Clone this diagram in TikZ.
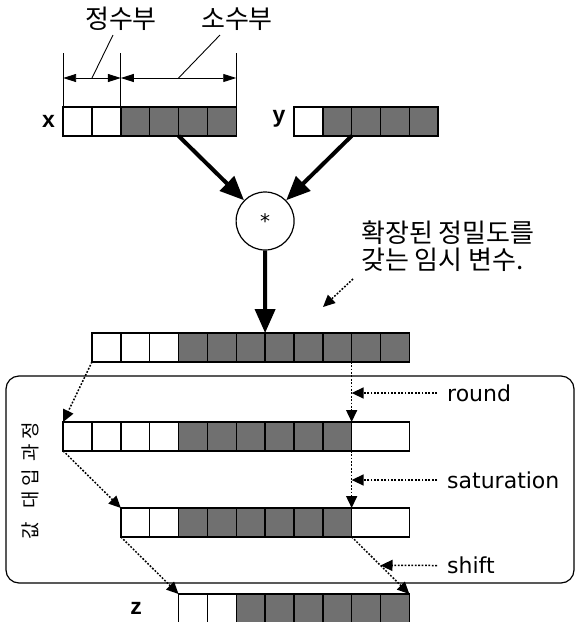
\documentclass[tikz,border=0pt]{standalone}
\usepackage{fontspec}
\setmainfont{DejaVu Sans}
\newfontfamily\kr{Noto Sans CJK KR}
\newfontfamily\varfont{Liberation Sans}
\usetikzlibrary{arrows.meta,calc}
\definecolor{cellgray}{RGB}{112,112,112}

% width of one bit cell
\newcommand\cw{28.85}
% one register row: name, left x, top y, white cells, gray cells
\newcommand\mkrow[5]{%
  \foreach \k in {1,...,#4}{%
    \node[cellw] (#1\k) at ({#2+(\k-1)*\cw},#3) {};}
  \foreach \k in {1,...,#5}{%
    \pgfmathtruncatemacro\j{#4+\k}%
    \node[cellg] (#1\j) at ({#2+(\j-1)*\cw},#3) {};}
}

\begin{document}
\begin{tikzpicture}[x=1pt,y=-1pt,
  cellbase/.style={draw=black,line width=1.5pt,minimum width=\cw pt,
    minimum height=\cw pt,inner sep=0pt,outer sep=0pt,anchor=north west},
  cellw/.style={cellbase,fill=white},
  cellg/.style={cellbase,fill=cellgray},
  widecell/.style={cellbase,fill=white,minimum width=2*\cw pt},
  flow/.style={line width=4pt,-{Triangle[length=24pt,width=20pt]}},
  dotarrow/.style={line width=1.5pt,dash pattern=on 1.8pt off 1.6pt,
    -{Triangle[length=12pt,width=11pt]}},
  dimline/.style={line width=0.9pt,
    {Triangle[length=13pt,width=8pt]}-{Triangle[length=13pt,width=8pt]}},
  thinline/.style={line width=0.9pt},
  note/.style={font=\fontsize{22}{26}\selectfont,inner sep=0pt,anchor=west},
  krtext/.style={font=\kr\fontsize{26}{27}\selectfont,inner sep=0pt},
  varname/.style={font=\varfont\bfseries\fontsize{23}{26}\selectfont,inner sep=0pt}
]
\useasboundingbox (0,0) rectangle (575,622);

% frame of the value assignment stage
\draw[line width=1.2pt,rounded corners=13pt] (6,376) rectangle (574,583);

% operand registers
\mkrow{X}{63.15}{107}{2}{4}
\mkrow{Y}{293.95}{107}{1}{4}
\node[varname] (xl) at (48.5,121) {x};
\node[varname] (yl) at (279,119) {y};

% dimension lines over x
\coordinate (e1) at ($(X1.north west)+(0,-54)$);
\coordinate (e2) at ($(X2.north east)+(0,-54)$);
\coordinate (e3) at ($(X6.north east)+(0,-54)$);
\draw[thinline] (X1.north west) -- (e1);
\draw[thinline] (X2.north east) -- (e2);
\draw[thinline] (X6.north east) -- (e3);
\coordinate (d1) at (e1 |- 0,78);
\coordinate (d2) at (e2 |- 0,78);
\coordinate (d3) at (e3 |- 0,78);
\draw[dimline] (d1) -- (d2);
\draw[dimline] (d2) -- (d3);
\node[krtext] (intpart) at (121,19) {정수부};
\node[krtext] (fracpart) at (237,19) {소수부};
\coordinate (intfoot) at (113,35);
\coordinate (fracfoot) at (220,35);
\draw[thinline] (intfoot) -- ($(d1)!0.5!(d2)$);
\draw[thinline] (fracfoot) -- ($(d2)!0.5!(d3)$);

% multiplier
\node[draw,circle,line width=1.2pt,minimum size=58pt,inner sep=0pt,
  font=\fontsize{20}{20}\selectfont] (mul) at (265.1,221) {*};

% wide temporary register
\mkrow{T}{92}{333}{3}{8}

\draw[flow] (X4.south east) -- (mul);
\draw[flow] (Y2.south east) -- (mul);
\draw[flow] (mul) -- (T6.north east);

% note on the temporary
\node[krtext,anchor=north west,align=left] (tmpnote) at (361,221)
  {확장된 정밀도를\\갖는 임시 변수.};
\coordinate (notetail) at (353,279);
\coordinate (notetip) at (323,307);
\draw[dotarrow] (notetail) -- (notetip);

% rounded register
\mkrow{R}{63.15}{422}{4}{6}
\node[widecell] (R11) at (351.65,422) {};

% saturated register
\mkrow{S}{120.85}{508}{2}{6}
\node[widecell] (S9) at (351.65,508) {};

% result register
\mkrow{Z}{178.55}{594}{2}{6}
\node[varname] (zl) at (136,608) {z};

% data movement
\draw[dotarrow] (T1.south west) -- (R1.north west);
\draw[dotarrow] (T9.south east) -- (R10.north east);
\draw[dotarrow] (R1.south west) -- (S1.north west);
\draw[dotarrow] (R10.south east) -- (S8.north east);
\draw[dotarrow] (S1.south west) -- (Z1.north west);
\draw[dotarrow] (S8.south east) -- (Z8.north east);
\coordinate (shiftpt) at ($(S8.south east)!0.5!(Z8.north east)$);

% step labels
\node[note] (round) at (447,393) {round};
\node[note] (sat) at (447,480) {saturation};
\node[note] (shift) at (447,565.5) {shift};
\draw[dotarrow] ([xshift=-10pt]round.west) -- (round.west -| R10.north east);
\draw[dotarrow] ([xshift=-10pt]sat.west) -- (sat.west -| R10.north east);
\draw[dotarrow] ([xshift=-10pt]shift.west) -- (shiftpt);

% stage caption, set along the frame
\node[rotate=90,font=\kr\fontsize{19}{19}\selectfont,inner sep=0pt] (stage)
  at (30,481) {값\hspace{14pt}대\hspace{4pt}입\hspace{8pt}과\hspace{4pt}정};
\end{tikzpicture}
\end{document}
